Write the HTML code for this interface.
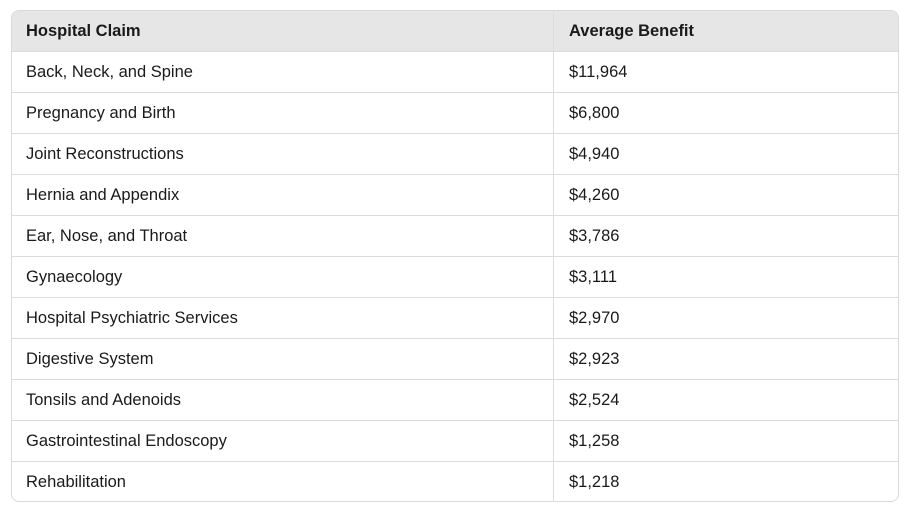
<!DOCTYPE html>
<html><head><style>
body{margin:0;width:911px;height:517px;background:#fff;font-family:"Liberation Sans",sans-serif;color:#1a1a1a;}
.t{position:absolute;left:11px;top:10px;width:888px;height:492px;border:1px solid #d9d9d9;border-radius:8px;overflow:hidden;box-sizing:border-box;}
.r{position:absolute;left:0;width:100%;height:41px;border-bottom:1px solid #dcdcdc;box-sizing:border-box;font-size:16.5px;line-height:40px;}
.r.h{background:#e6e6e6;font-weight:bold;}
.c1{position:absolute;left:14px;}
.c2{position:absolute;left:557px;}
.v{position:absolute;left:541px;top:0;width:1px;height:100%;background:#dcdcdc;}
</style></head><body>
<div class="t">
<div class="r h" style="top:0"><span class="c1">Hospital Claim</span><span class="c2">Average Benefit</span></div>
<div class="r" style="top:41px"><span class="c1">Back, Neck, and Spine</span><span class="c2">$11,964</span></div>
<div class="r" style="top:82px"><span class="c1">Pregnancy and Birth</span><span class="c2">$6,800</span></div>
<div class="r" style="top:123px"><span class="c1">Joint Reconstructions</span><span class="c2">$4,940</span></div>
<div class="r" style="top:164px"><span class="c1">Hernia and Appendix</span><span class="c2">$4,260</span></div>
<div class="r" style="top:205px"><span class="c1">Ear, Nose, and Throat</span><span class="c2">$3,786</span></div>
<div class="r" style="top:246px"><span class="c1">Gynaecology</span><span class="c2">$3,111</span></div>
<div class="r" style="top:287px"><span class="c1">Hospital Psychiatric Services</span><span class="c2">$2,970</span></div>
<div class="r" style="top:328px"><span class="c1">Digestive System</span><span class="c2">$2,923</span></div>
<div class="r" style="top:369px"><span class="c1">Tonsils and Adenoids</span><span class="c2">$2,524</span></div>
<div class="r" style="top:410px"><span class="c1">Gastrointestinal Endoscopy</span><span class="c2">$1,258</span></div>
<div class="r" style="top:451px;border-bottom:none"><span class="c1">Rehabilitation</span><span class="c2">$1,218</span></div>
<div class="v"></div>
</div>
</body></html>
